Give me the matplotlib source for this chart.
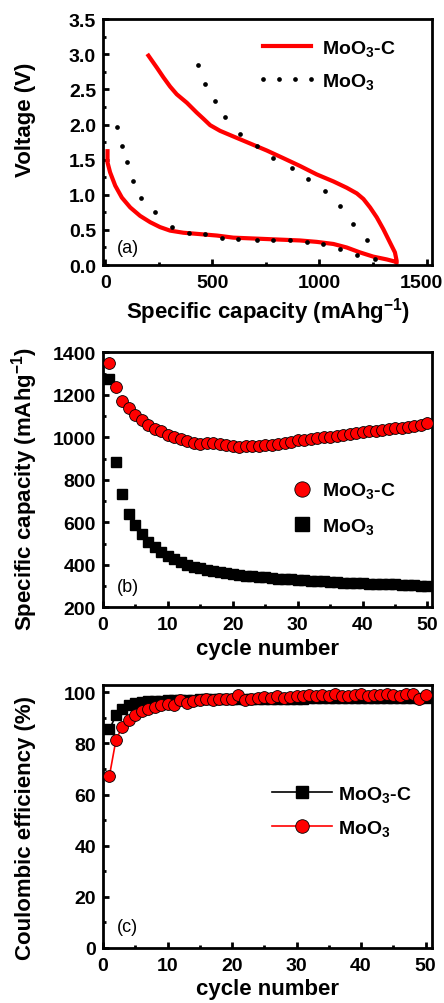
import matplotlib
matplotlib.use("Agg")
import matplotlib.pyplot as plt
from matplotlib.ticker import MultipleLocator, FormatStrFormatter
from matplotlib.transforms import ScaledTranslation

plt.rcParams["font.family"] = ["Liberation Sans", "DejaVu Sans"]
plt.rcParams["mathtext.fontset"] = "custom"
plt.rcParams["mathtext.rm"] = "Liberation Sans"
plt.rcParams["mathtext.bf"] = "Liberation Sans:bold"
plt.rcParams["mathtext.default"] = "regular"

# (a) charge/discharge profiles
cap_c = [11, 11, 23, 47, 78, 117, 163, 210, 256, 303, 365, 443, 521, 598, 676, 754, 832, 909, 987,
         1065, 1127, 1189, 1251, 1314, 1352, 1360,
         1360, 1352, 1329, 1298, 1267, 1236, 1205, 1174, 1127, 1065, 987, 909, 832, 754, 676,
         598, 536, 490, 459, 427, 381, 334, 303, 272, 241, 218, 202]
volt_c = [1.62, 1.46, 1.32, 1.13, 0.96, 0.82, 0.70, 0.61, 0.54, 0.49, 0.46, 0.44, 0.42, 0.39, 0.38, 0.37, 0.36, 0.35, 0.33,
          0.30, 0.25, 0.18, 0.12, 0.08, 0.05, 0.03,
          0.06, 0.18, 0.32, 0.51, 0.68, 0.82, 0.94, 1.02, 1.10, 1.19, 1.29, 1.41, 1.52, 1.63, 1.73,
          1.83, 1.91, 1.99, 2.08, 2.17, 2.31, 2.43, 2.54, 2.67, 2.81, 2.91, 2.98]
# MoO3: the dots of the dotted curve
cap_m = [54, 78, 101, 132, 166, 233, 311, 389, 466, 544, 622, 707, 785, 863, 940, 1018, 1096, 1174, 1259,
         1220, 1158, 1096, 1026, 948, 871, 785, 707, 630, 560, 513, 466, 435]
volt_m = [1.96, 1.70, 1.46, 1.20, 0.96, 0.75, 0.54, 0.46, 0.44, 0.39, 0.37, 0.36, 0.35, 0.35, 0.33, 0.30, 0.23, 0.14, 0.09,
          0.35, 0.58, 0.84, 1.06, 1.22, 1.38, 1.53, 1.70, 1.86, 2.10, 2.34, 2.57, 2.84]

# (b) cycling capacity
cycles = list(range(1, 51))
spec_c = [1350, 1237, 1172, 1138, 1107, 1080, 1060, 1041, 1028, 1013,
          1003, 993, 983, 976, 968, 975, 975, 970, 962, 958,
          957, 960, 960, 960, 962, 965, 970, 975, 980, 986,
          990, 994, 996, 1000, 1002, 1006, 1010, 1015, 1020, 1026,
          1028, 1032, 1036, 1040, 1044, 1046, 1050, 1055, 1060, 1067]
spec_m = [1276, 885, 732, 638, 586, 545, 510, 484, 462, 442,
          426, 412, 401, 392, 384, 377, 371, 366, 362, 358,
          354, 350, 347, 344, 341, 339, 336, 334, 332, 330,
          328, 326, 324, 322, 320, 319, 317, 316, 314, 313,
          312, 311, 310, 309, 308, 306, 305, 304, 302, 300]

# (c) coulombic efficiency
ce_c = [85.5, 91.0, 93.5, 95.0, 95.8, 96.2, 96.5, 96.7, 96.8, 97.0,
        97.0, 97.1, 97.2, 97.2, 97.3, 97.3, 97.3, 97.4, 97.4, 97.4,
        97.5, 97.5, 97.5, 97.5, 97.5, 97.6, 97.6, 97.6, 97.6, 97.6,
        97.6, 97.7, 97.7, 97.7, 97.7, 97.7, 97.7, 97.7, 97.8, 97.8,
        97.8, 97.8, 97.8, 97.8, 97.8, 97.8, 97.8, 97.8, 97.8, 97.8]
ce_m = [67.4, 81.3, 86.6, 89.2, 91.1, 92.6, 93.6, 94.4, 95.0, 95.6,
        95.0, 97.0, 96.0, 96.5, 97.0, 97.5, 97.0, 97.5, 97.3, 97.6,
        99.0, 97.0, 97.5, 98.0, 98.2, 98.0, 98.5, 98.0, 98.3, 98.5,
        98.5, 99.0, 98.5, 98.8, 98.5, 99.2, 98.7, 98.5, 99.0, 99.3,
        98.5, 98.8, 99.0, 99.3, 98.8, 98.5, 99.2, 99.5, 97.5, 99.0]

lab_c = "MoO$_\\mathbf{3}$-C"
lab_m = "MoO$_\\mathbf{3}$"

fig = plt.figure(figsize=(4.44, 10.04), dpi=100)
ax1 = fig.add_axes([0.232, 0.735, 0.741, 0.245])
ax2 = fig.add_axes([0.232, 0.394, 0.741, 0.254])
ax3 = fig.add_axes([0.232, 0.055, 0.741, 0.262])

labfont = dict(fontsize=16, fontweight="bold")
legfont = dict(size=14, weight="bold")


def style(ax):
    for s in ax.spines.values():
        s.set_linewidth(2)
    ax.tick_params(which="both", direction="in", top=False, right=False, width=2)
    ax.tick_params(which="major", length=4, pad=5)
    ax.tick_params(axis="x", which="major", pad=6.5)
    ax.tick_params(which="minor", length=2.5)
    for lab in ax.get_xticklabels() + ax.get_yticklabels():
        lab.set_fontsize(14)
        lab.set_fontweight("bold")


# ---- (a)
ax1.plot(cap_c, volt_c, color="red", lw=3, label=lab_c)
ax1.plot(cap_m, volt_m, "o", color="black", ms=3.4, mew=0, label=lab_m)
ax1.set_xlim(-10, 1525)
ax1.set_ylim(0, 3.5)
ax1.xaxis.set_major_locator(MultipleLocator(500))
ax1.xaxis.set_minor_locator(MultipleLocator(250))
ax1.yaxis.set_major_locator(MultipleLocator(0.5))
ax1.yaxis.set_minor_locator(MultipleLocator(0.25))
ax1.yaxis.set_major_formatter(FormatStrFormatter("%.1f"))
style(ax1)
ax1.set_xlabel("Specific capacity (mAhg$^\\mathbf{-1}$)", labelpad=3, **labfont)
ax1.set_ylabel("Voltage (V)", **labfont)
ax1.yaxis.set_label_coords(-0.205, 0.593)
ax1.text(0.043, 0.053, "(a)", transform=ax1.transAxes, fontsize=13)
ax1.legend(loc="upper left", bbox_to_anchor=(0.468, 0.923), frameon=False, prop=legfont,
           handlelength=3.1, numpoints=4, handletextpad=0.26, borderaxespad=0, borderpad=0,
           labelspacing=0.66)

# ---- (b)
ax2.plot(cycles, spec_m, "s", color="black", ms=7.5, label=lab_m, zorder=2)
ax2.plot(cycles, spec_c, "o", color="red", mec="black", mew=0.6, ms=8.5, label=lab_c, zorder=3)
ax2.set_xlim(0, 50.7)
ax2.set_ylim(200, 1400)
ax2.xaxis.set_major_locator(MultipleLocator(10))
ax2.xaxis.set_minor_locator(MultipleLocator(5))
ax2.yaxis.set_major_locator(MultipleLocator(200))
ax2.yaxis.set_minor_locator(MultipleLocator(100))
style(ax2)
ax2.set_xlabel("cycle number", labelpad=3, **labfont)
ax2.set_ylabel("Specific capacity (mAhg$^\\mathbf{-1}$)", **labfont)
ax2.yaxis.set_label_coords(-0.19, 0.47)
ax2.text(0.043, 0.063, "(b)", transform=ax2.transAxes, fontsize=13)
h, l = ax2.get_legend_handles_labels()
ax2.legend(h[::-1], l[::-1], loc="upper left", bbox_to_anchor=(0.564, 0.498), frameon=False,
           prop=legfont, markerscale=1.3, handlelength=1.4, handletextpad=0.33,
           borderaxespad=0, borderpad=0, labelspacing=0.8)

# ---- (c)
ax3.plot(cycles, ce_c, "-s", color="black", lw=1.2, ms=7.5, label=lab_c, zorder=2)
ax3.plot(cycles, ce_m, "-o", color="red", lw=1.2, mfc="red", mec="black", mew=0.6, ms=8.5,
         label=lab_m, zorder=3)
ax3.set_xlim(0, 51)
ax3.set_ylim(0, 103)
ax3.xaxis.set_major_locator(MultipleLocator(10))
ax3.xaxis.set_minor_locator(MultipleLocator(5))
ax3.yaxis.set_major_locator(MultipleLocator(20))
ax3.yaxis.set_minor_locator(MultipleLocator(10))
style(ax3)
ax3.set_xlabel("cycle number", labelpad=3, **labfont)
ax3.set_ylabel("Coulombic efficiency (%)", **labfont)
ax3.yaxis.set_label_coords(-0.205, 0.46)
ax3.text(0.043, 0.065, "(c)", transform=ax3.transAxes, fontsize=13)
ax3.legend(loc="upper left", bbox_to_anchor=(0.514, 0.624), frameon=False, prop=legfont,
           markerscale=1.15, handlelength=3.1, handletextpad=0.3, borderaxespad=0,
           borderpad=0, labelspacing=0.75)

# nudge the last x tick label of (a) so it stays inside the picture
fig.canvas.draw()
for lab in ax1.get_xticklabels():
    if lab.get_text() == "1500":
        lab.set_transform(lab.get_transform() + ScaledTranslation(-0.05, 0, fig.dpi_scale_trans))

fig.savefig("out.png", dpi=100)
